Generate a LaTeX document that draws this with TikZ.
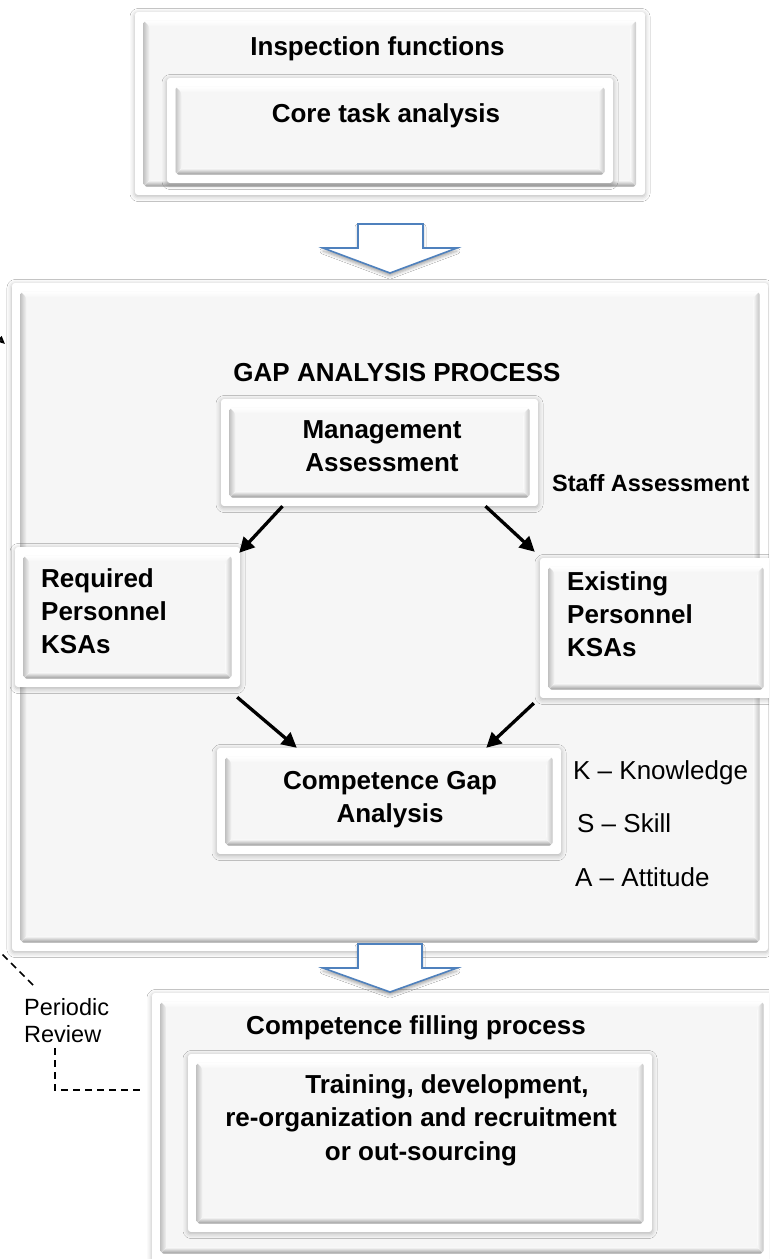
\documentclass[tikz,border=0pt]{standalone}
\usepackage{fontspec}
\setmainfont{Liberation Sans}
\usetikzlibrary{calc,fit,shadows.blur,arrows.meta}

\definecolor{panelgrey}{HTML}{F6F6F6}
\definecolor{bevellow}{HTML}{9A9A9A}
\definecolor{bevelside}{HTML}{C4C4C4}
\definecolor{blockblue}{HTML}{4F81BD}

% raised face inside a white frame: flat panel plus four bevel bands
\newcommand\bevelface{%
  \coordinate (bvBL) at ($(path picture bounding box.south west)+(8.5pt,8.5pt)$);
  \coordinate (bvTR) at ($(path picture bounding box.north east)+(-8.5pt,-8.5pt)$);
  \coordinate (bvBR) at (bvBL -| bvTR);
  \coordinate (bvTL) at (bvBL |- bvTR);
  \fill[panelgrey] (bvBL) rectangle (bvTR);
  \shade[top color=white, bottom color=panelgrey]
    (bvTL) -- (bvTR) -- ($(bvTR)+(-6pt,-6pt)$) -- ($(bvTL)+(6pt,-6pt)$) -- cycle;
  \shade[left color=bevelside, right color=panelgrey]
    (bvTL) -- ($(bvTL)+(6pt,-6pt)$) -- ($(bvBL)+(6pt,6pt)$) -- (bvBL) -- cycle;
  \shade[left color=panelgrey, right color=bevelside]
    (bvTR) -- ($(bvTR)+(-6pt,-6pt)$) -- ($(bvBR)+(-6pt,6pt)$) -- (bvBR) -- cycle;
  \shade[top color=panelgrey, bottom color=bevellow]
    (bvBL) -- ($(bvBL)+(6pt,6pt)$) -- ($(bvBR)+(-6pt,6pt)$) -- (bvBR) -- cycle;
}

\tikzset{
  frame/.style={fill=white, rounded corners=3pt, inner sep=0pt,
    blur shadow={shadow xshift=0pt, shadow yshift=-1.5pt, shadow blur radius=5pt, shadow opacity=30},
    path picture={\bevelface}},
  btxt/.style={font=\fontsize{26}{33}\selectfont\bfseries, inner sep=0pt, align=center},
  btxtl/.style={btxt, align=left},
  rtxt/.style={font=\fontsize{26}{33}\selectfont, inner sep=0pt},
  karrow/.style={line width=3.3pt, -{Triangle[length=15pt,width=15pt]}},
  blockarrow/.style={fill=white, draw=blockblue, line width=1.6pt, line join=miter,
    blur shadow={shadow xshift=0pt, shadow yshift=-3pt, shadow blur radius=3pt, shadow opacity=35}},
  reviewline/.style={dash pattern=on 7pt off 5pt, line width=1.7pt},
}

\begin{document}
\begin{tikzpicture}[x=1pt, y=-1pt]
\useasboundingbox (0,0) rectangle (769,1259);
\clip (0,0) rectangle (769,1259);
\fill[white] (0,0) rectangle (769,1259);

% inspection functions
\node[frame, fit={(135,12) (645,195)}] (insp) {};
\node[frame, fit={(167,78) (613,183)}] (core) {};
\node[btxt, anchor=base] (insp-t) at (377.5,55) {Inspection functions};
\node[btxt, anchor=base] (core-t) at (386,122) {Core task analysis};

% gap analysis process
\node[frame, fit={(12,283) (768,951)}] (gap) {};
\node[btxt, anchor=base] (gap-t) at (397,381) {GAP ANALYSIS PROCESS};

\node[frame, fit={(221,399) (538,506)}] (mgmt) {};
\node[btxt, anchor=north] (mgmt-t) at (382,420.3) {Management\\Assessment};

\node[btxt, anchor=base west, font=\fontsize{23.5}{28}\selectfont\bfseries] (staff) at (552,491) {Staff Assessment};

\node[frame, fit={(15,547) (240,687)}] (req) {};
\node[btxtl, anchor=north west] (req-t) at (41,568.3) {Required\\Personnel\\KSAs};

\node[frame, fit={(540,558) (772,698)}] (exist) {};
\node[btxtl, anchor=north west] (exist-t) at (567,571.3) {Existing\\Personnel\\KSAs};

\node[frame, fit={(217,748) (561,854)}] (cga) {};
\node[btxt, anchor=north] (cga-t) at (390,771.3) {Competence Gap\\Analysis};

\node[rtxt, anchor=base west] (kk) at (573,779) {K – Knowledge};
\node[rtxt, anchor=base west] (ss) at (577,832) {S – Skill};
\node[rtxt, anchor=base west] (aa) at (575,886) {A – Attitude};

\draw[karrow] ([xshift=-97pt]mgmt.south) -- ([shift={(-1pt,-6pt)}]req.north east);
\draw[karrow] ([xshift=106pt]mgmt.south) -- ([shift={(-5pt,6pt)}]exist.north west);
\draw[karrow] ([shift={(-3pt,-10pt)}]req.south east) -- ([xshift=80pt]cga.north west);
\draw[karrow] ([shift={(-6pt,-5pt)}]exist.south west) -- ([xshift=-75pt]cga.north east);

% competence filling process
\node[frame, fit={(152,993) (772,1262)}] (fill) {};
\node[frame, fit={(188,1054) (652,1232)}] (train) {};
\node[btxt, anchor=base] (fill-t) at (416,1034) {Competence filling process};
\node[btxt, anchor=north, font=\fontsize{26}{33.5}\selectfont\bfseries] (train-t) at (421,1074.3)
  {\hspace*{52pt}Training, development,\\re-organization and recruitment\\or out-sourcing};

% block arrows between the stages
\draw[blockarrow] (358,224) -- (423,224) -- (423,248) -- (457,248) -- (390,273)
  -- (323,248) -- (358,248) -- cycle;
\draw[blockarrow] (358,944) -- (422,944) -- (422,968) -- (457,968) -- (390,992)
  -- (323,968) -- (358,968) -- cycle;

% periodic review loop
\node[anchor=north west, align=left, inner sep=0pt, font=\fontsize{23.5}{27.5}\selectfont] (review) at (24,998) {Periodic\\Review};
\coordinate (rvIn) at ([xshift=-12pt]fill.west |- 0,1090);
\coordinate (rvUp) at (55,1045);
\coordinate (rvOut) at ([shift={(9pt,13pt)}]review.north west);
\coordinate (rvTip) at (5,344);
\draw[reviewline] (rvIn) -| (rvUp);
\draw[reviewline, -{Triangle[length=8pt,width=7pt]}] (rvOut) -- (-8,944) -- (-8,332) -- (rvTip);
\end{tikzpicture}
\end{document}
